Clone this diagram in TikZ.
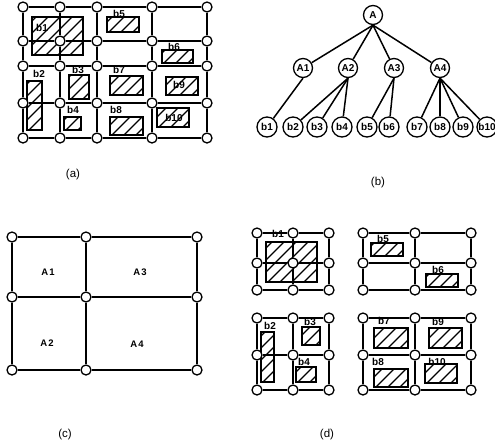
\documentclass[tikz,border=0pt]{standalone}
\usepackage{fontspec}
\setmainfont{Liberation Sans}
\begin{document}
\begin{tikzpicture}[x=1pt,y=-1pt,
  line width=1.5pt,
  vtx/.style={circle,draw,fill=white,inner sep=0pt,minimum size=10pt,line width=1.3pt},
  tnode/.style={circle,draw,fill=white,inner sep=0pt,minimum size=19pt,line width=1.3pt,font=\fontsize{10}{10}\selectfont\bfseries},
  blab/.style={inner sep=0pt,font=\fontsize{10}{10}\selectfont\bfseries},
  alab/.style={inner sep=0pt,font=\fontsize{9.5}{10}\selectfont\bfseries},
  figcap/.style={inner sep=0pt,font=\fontsize{11.5}{12}\selectfont},
  hatchline/.style={line width=1.1pt}]
\useasboundingbox (0,0) rectangle (495,445);

% hatched block: x1, y1, x2, y2
\newcommand{\hatchbox}[4]{%
  \begin{scope}
    \clip (#1,#2) rectangle (#3,#4);
    \foreach \k in {-96,-84,...,96}
      \draw[hatchline] ({#1+\k},{#4+2}) -- ++(100,-100);
  \end{scope}
  \draw (#1,#2) rectangle (#3,#4);}

% grid of vertices joined row by row and column by column
\newcommand{\gridnet}[3]{%
  \foreach \y [count=\j, remember=\j as \lj (initially 0)] in {#3} {
    \foreach \x [count=\i, remember=\i as \li (initially 0)] in {#2} {
      \node[vtx] (#1-\i-\j) at (\x,\y) {};
      \ifnum\li>0 \draw (#1-\li-\j) -- (#1-\i-\j); \fi
      \ifnum\lj>0 \draw (#1-\i-\lj) -- (#1-\i-\j); \fi
    }
  }}

% ---------------- (a) blocks on the full grid ----------------
\hatchbox{32}{17}{83}{55}
\hatchbox{107}{17}{139}{32}
\hatchbox{162}{50}{193}{63}
\hatchbox{27}{81}{42}{130}
\hatchbox{69}{75}{89}{99}
\hatchbox{110}{76}{143}{95}
\hatchbox{166}{77}{198}{95}
\hatchbox{64}{117}{81}{130}
\hatchbox{110}{117}{143}{135}
\hatchbox{157}{108}{189}{127}
\gridnet{ga}{23,60,97,152,207}{7,41,66,103,138}
\node[blab] (ab1) at (42,28) {b1};
\node[blab] (ab5) at (119,14) {b5};
\node[blab] (ab6) at (174,47) {b6};
\node[blab] (ab2) at (39,74) {b2};
\node[blab] (ab3) at (78,70) {b3};
\node[blab] (ab7) at (119,70) {b7};
\node[blab] (ab9) at (179,85) {b9};
\node[blab] (ab4) at (73,110) {b4};
\node[blab] (ab8) at (116,110) {b8};
\node[blab] (ab10) at (174,118) {b10};
\node[figcap] (capa) at (73,175) {(a)};

% ---------------- (b) tree ----------------
\node[tnode] (A) at (373,15) {A};
\node[tnode] (A1) at (303,68) {A1};
\node[tnode] (A2) at (348,68) {A2};
\node[tnode] (A3) at (394,68) {A3};
\node[tnode] (A4) at (440,68) {A4};
\foreach \n/\x in {1/267,2/293,3/317,4/342,5/367,6/389,7/417,8/440,9/463,10/487}
  \node[tnode,minimum size=20pt] (b\n) at (\x,127) {b\n};
\foreach \c in {A1,A2,A3,A4} \draw (A.south) -- (\c);
\draw (A1.south) -- (b1);
\foreach \c in {b2,b3,b4} \draw (A2.south) -- (\c);
\foreach \c in {b5,b6} \draw (A3.south) -- (\c);
\foreach \c in {b7,b8,b9,b10} \draw (A4.south) -- (\c);
\node[figcap] (capb) at (378,183) {(b)};

% ---------------- (c) coarse grid ----------------
\gridnet{gc}{12,86,197}{237,297,370}
\node[alab] (cA1) at (48,272) {A\kern1.2pt1};
\node[alab] (cA3) at (140,272) {A\kern1.2pt3};
\node[alab] (cA2) at (47,343) {A\kern1.2pt2};
\node[alab] (cA4) at (137,344) {A\kern1.2pt4};
\node[figcap] (capc) at (65,435) {(c)};

% ---------------- (d) four subgrids ----------------
\hatchbox{266}{242}{317}{282}
\gridnet{gd1}{257,293,329}{233,263,290}
\node[blab] (db1) at (278,234) {b1};

\hatchbox{371}{243}{403}{256}
\hatchbox{426}{274}{458}{287}
\gridnet{gd2}{363,415,471}{233,263,290}
\node[blab] (db5) at (383,239) {b5};
\node[blab] (db6) at (438,270) {b6};

\hatchbox{261}{332}{274}{382}
\hatchbox{302}{327}{320}{345}
\hatchbox{296}{367}{316}{382}
\gridnet{gd3}{257,293,329}{318,355,390}
\node[blab] (db2) at (270,326) {b2};
\node[blab] (db3) at (310,322) {b3};
\node[blab] (db4) at (304,362) {b4};

\hatchbox{374}{328}{408}{348}
\hatchbox{429}{328}{462}{348}
\hatchbox{374}{369}{408}{387}
\hatchbox{425}{364}{457}{383}
\gridnet{gd4}{363,415,471}{318,355,390}
\node[blab] (db7) at (384,321) {b7};
\node[blab] (db9) at (438,322) {b9};
\node[blab] (db8) at (378,362) {b8};
\node[blab] (db10) at (437,362) {b10};
\node[figcap] (capd) at (327,435) {(d)};
\end{tikzpicture}
\end{document}
